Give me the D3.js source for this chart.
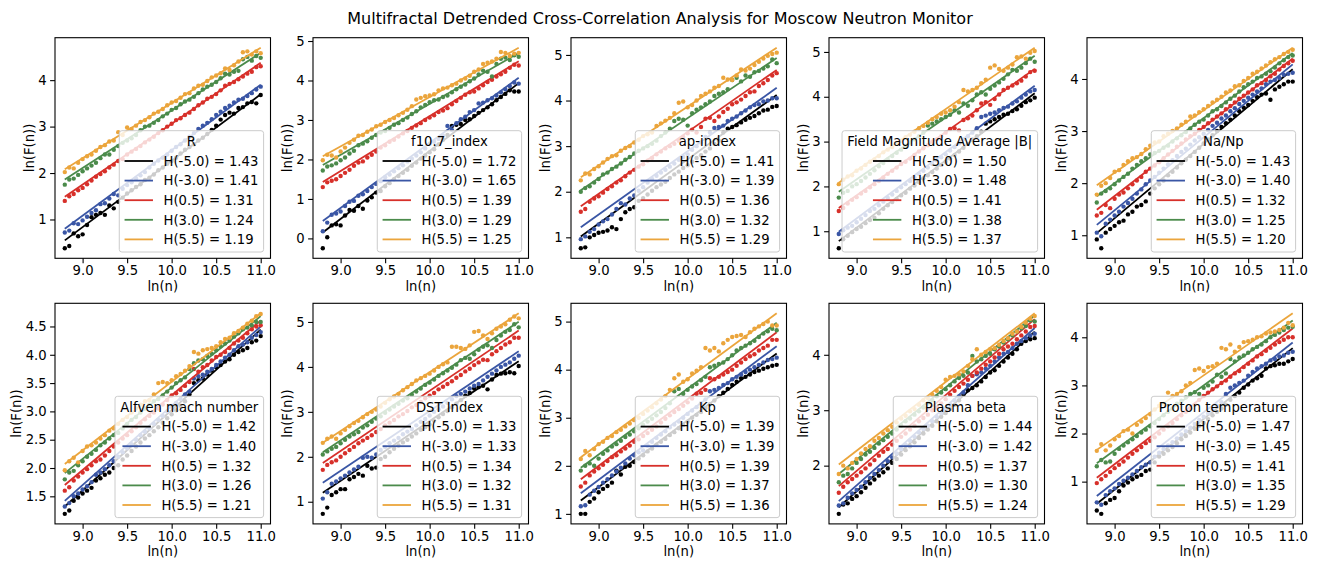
<!DOCTYPE html>
<html>
<head>
<meta charset="utf-8">
<script src="https://cdn.jsdelivr.net/npm/d3@7"></script>
<style>
body { margin: 0; background: #fff; }
svg text { font-family: "DejaVu Sans", sans-serif; fill: #000; }
</style>
</head>
<body>
<svg id="chart" width="1317" height="562"></svg>
<script>
var chartTitle = "Multifractal Detrended Cross-Correlation Analysis for Moscow Neutron Monitor";

// ln(n) scales shared by every panel
var lnN = [8.80, 8.85, 8.90, 8.95, 9.00, 9.05, 9.10, 9.15, 9.20, 9.25, 9.30, 9.35, 9.40, 9.45, 9.50,
    9.55, 9.60, 9.65, 9.70, 9.75, 9.80, 9.85, 9.90, 9.95, 10.00, 10.05, 10.10, 10.15, 10.20, 10.25,
    10.30, 10.35, 10.40, 10.45, 10.50, 10.55, 10.60, 10.65, 10.70, 10.75, 10.80, 10.85, 10.90, 10.95, 11.00];

var qOrders = ["-5.0", "-3.0", "0.5", "3.0", "5.5"];
var panelNames = ["R", "f10.7_index", "ap-index", "Field Magnitude Average |B|", "Na/Np",
    "Alfven mach number", "DST Index", "Kp", "Plasma beta", "Proton temperature"];

// generalized Hurst exponents (slopes of the fits), one row per panel
var hurst = [
    [1.43, 1.41, 1.31, 1.24, 1.19],
    [1.72, 1.65, 1.39, 1.29, 1.25],
    [1.41, 1.39, 1.36, 1.32, 1.29],
    [1.50, 1.48, 1.41, 1.38, 1.37],
    [1.43, 1.40, 1.32, 1.25, 1.20],
    [1.42, 1.40, 1.32, 1.26, 1.21],
    [1.33, 1.33, 1.34, 1.32, 1.31],
    [1.39, 1.39, 1.39, 1.37, 1.36],
    [1.44, 1.42, 1.37, 1.30, 1.24],
    [1.47, 1.45, 1.41, 1.35, 1.29]
];

// value of each fitted line at the first ln(n)
var fitStart = [
    [0.55, 0.80, 1.49, 1.86, 2.08],
    [0.15, 0.44, 1.43, 1.86, 2.08],
    [1.02, 1.22, 1.68, 2.03, 2.32],
    [0.78, 0.99, 1.52, 1.88, 2.08],
    [1.04, 1.20, 1.49, 1.75, 1.96],
    [1.32, 1.42, 1.70, 1.91, 2.07],
    [1.20, 1.42, 1.86, 2.10, 2.31],
    [1.28, 1.43, 1.72, 1.96, 2.18],
    [1.25, 1.36, 1.63, 1.85, 2.02],
    [0.54, 0.70, 1.08, 1.38, 1.66]
];

var xTicks = [9.0, 9.5, 10.0, 10.5, 11.0];
var yTicks = [
    [1, 2, 3, 4],
    [0, 1, 2, 3, 4, 5],
    [1, 2, 3, 4, 5],
    [1, 2, 3, 4, 5],
    [1, 2, 3, 4],
    [1.5, 2.0, 2.5, 3.0, 3.5, 4.0, 4.5],
    [1, 2, 3, 4, 5],
    [1, 2, 3, 4, 5],
    [2, 3, 4],
    [1, 2, 3, 4]
];

// ln(F(n)) points, one list per q order
var lnF_R = [
    [0.38, 0.43, 0.70, 0.64, 0.68, 0.88, 1.05, 1.10, 1.14, 1.10, 1.30, 1.24, 1.38, 1.47, 1.56, 1.63, 1.70, 1.76, 1.85, 1.90, 1.97, 2.06, 2.12, 2.20, 2.26, 2.33, 2.42, 2.50, 2.56, 2.62, 2.70, 2.76, 2.84, 2.93, 3.02, 3.15, 3.25, 3.30, 3.28, 3.40, 3.42, 3.50, 3.53, 3.50, 3.68],
    [0.72, 0.76, 0.92, 0.90, 0.98, 1.06, 1.14, 1.20, 1.33, 1.35, 1.45, 1.55, 1.52, 1.66, 1.74, 1.80, 1.88, 1.95, 2.02, 2.12, 2.20, 2.27, 2.33, 2.40, 2.48, 2.56, 2.62, 2.70, 2.78, 2.86, 2.95, 3.02, 3.08, 3.16, 3.25, 3.32, 3.40, 3.45, 3.52, 3.58, 3.60, 3.66, 3.72, 3.80, 3.86],
    [1.40, 1.50, 1.55, 1.63, 1.68, 1.76, 1.84, 1.92, 1.98, 2.04, 2.12, 2.18, 2.26, 2.30, 2.40, 2.46, 2.52, 2.58, 2.66, 2.72, 2.78, 2.86, 2.92, 3.00, 3.06, 3.14, 3.18, 3.25, 3.30, 3.38, 3.46, 3.52, 3.60, 3.64, 3.70, 3.78, 3.88, 3.92, 3.96, 4.02, 4.08, 4.14, 4.18, 4.28, 4.30],
    [1.75, 1.86, 1.88, 1.96, 2.04, 2.10, 2.16, 2.22, 2.32, 2.40, 2.40, 2.50, 2.58, 2.65, 2.70, 2.75, 2.82, 2.92, 3.00, 3.02, 3.08, 3.14, 3.22, 3.28, 3.36, 3.40, 3.48, 3.54, 3.58, 3.64, 3.72, 3.80, 3.86, 3.90, 3.96, 4.04, 4.14, 4.12, 4.18, 4.20, 4.45, 4.50, 4.42, 4.52, 4.48],
    [2.02, 2.12, 2.10, 2.22, 2.30, 2.36, 2.40, 2.48, 2.56, 2.60, 2.68, 2.70, 2.88, 2.82, 2.98, 2.95, 3.02, 3.10, 3.14, 3.20, 3.28, 3.32, 3.38, 3.46, 3.52, 3.55, 3.62, 3.70, 3.72, 3.82, 3.88, 3.90, 3.98, 4.06, 4.10, 4.15, 4.25, 4.22, 4.32, 4.40, 4.60, 4.62, 4.55, 4.62, 4.58]
];
var lnF_f107 = [
    [-0.25, 0.03, 0.33, 0.36, 0.33, 0.58, 0.72, 0.70, 0.82, 0.75, 0.96, 1.04, 1.16, 1.20, 1.32, 1.40, 1.50, 1.58, 1.66, 1.74, 1.84, 1.92, 2.02, 2.10, 2.18, 2.26, 2.38, 2.50, 2.62, 2.85, 2.88, 2.90, 3.00, 3.02, 3.10, 3.18, 3.25, 3.32, 3.40, 3.50, 3.58, 3.66, 3.75, 3.72, 3.72],
    [0.18, 0.40, 0.60, 0.63, 0.68, 0.82, 0.93, 0.95, 1.08, 1.12, 1.20, 1.30, 1.38, 1.45, 1.55, 1.62, 1.70, 1.78, 1.85, 1.95, 2.02, 2.10, 2.18, 2.28, 2.40, 2.45, 2.52, 2.60, 2.85, 2.75, 2.92, 3.02, 3.08, 3.20, 3.25, 3.42, 3.44, 3.50, 3.55, 3.62, 3.70, 3.78, 3.86, 3.95, 3.92],
    [1.30, 1.42, 1.46, 1.50, 1.58, 1.66, 1.74, 1.84, 1.92, 1.95, 2.05, 2.12, 2.20, 2.30, 2.36, 2.45, 2.50, 2.58, 2.66, 2.72, 2.80, 2.86, 2.92, 3.00, 3.06, 3.12, 3.20, 3.24, 3.30, 3.40, 3.48, 3.56, 3.64, 3.70, 3.72, 3.80, 3.88, 3.96, 4.02, 4.10, 4.16, 4.22, 4.32, 4.40, 4.38],
    [1.72, 1.82, 1.85, 1.90, 1.98, 2.05, 2.15, 2.22, 2.36, 2.40, 2.46, 2.55, 2.62, 2.68, 2.72, 2.80, 2.88, 2.92, 3.00, 3.06, 3.15, 3.22, 3.32, 3.38, 3.45, 3.50, 3.52, 3.58, 3.62, 3.70, 3.78, 3.84, 3.90, 3.98, 4.05, 4.15, 4.25, 4.22, 4.10, 4.42, 4.55, 4.58, 4.52, 4.64, 4.60],
    [1.98, 2.12, 2.10, 2.05, 2.20, 2.30, 2.42, 2.50, 2.60, 2.62, 2.70, 2.76, 2.84, 2.88, 2.95, 3.00, 3.05, 3.12, 3.18, 3.26, 3.35, 3.52, 3.56, 3.60, 3.62, 3.65, 3.75, 3.80, 3.82, 3.88, 3.92, 4.00, 4.05, 4.12, 4.22, 4.28, 4.42, 4.45, 4.48, 4.55, 4.72, 4.70, 4.62, 4.68, 4.70]
];
var lnF_ap = [
    [0.76, 0.78, 1.00, 1.05, 1.10, 1.12, 1.15, 1.22, 1.18, 1.40, 1.55, 1.62, 1.66, 1.80, 1.86, 1.94, 2.02, 2.10, 2.16, 2.22, 2.30, 2.38, 2.44, 2.52, 2.58, 2.66, 2.74, 2.80, 2.88, 2.95, 3.05, 3.12, 3.30, 3.38, 3.42, 3.46, 3.52, 3.58, 3.62, 3.66, 3.72, 3.78, 3.80, 3.86, 3.88],
    [0.96, 1.02, 1.12, 1.18, 1.28, 1.35, 1.40, 1.50, 1.62, 1.75, 1.72, 1.85, 1.92, 2.02, 2.10, 2.20, 2.28, 2.35, 2.42, 2.48, 2.55, 2.62, 2.70, 2.76, 2.82, 2.92, 3.00, 3.08, 3.20, 3.30, 3.40, 3.42, 3.45, 3.55, 3.60, 3.65, 3.72, 3.78, 3.85, 3.90, 3.92, 3.98, 4.00, 4.05, 4.05],
    [1.56, 1.62, 1.78, 1.85, 1.90, 1.98, 2.06, 2.12, 2.20, 2.25, 2.34, 2.42, 2.48, 2.55, 2.60, 2.68, 2.74, 2.82, 2.88, 2.95, 3.00, 3.05, 3.12, 3.20, 3.28, 3.36, 3.30, 3.42, 3.60, 3.62, 3.55, 3.65, 3.75, 3.82, 3.92, 3.96, 4.02, 4.10, 4.18, 4.20, 4.32, 4.38, 4.45, 4.55, 4.60],
    [2.00, 2.08, 2.12, 2.20, 2.28, 2.38, 2.42, 2.50, 2.55, 2.62, 2.70, 2.76, 2.84, 2.90, 2.95, 3.00, 3.05, 3.12, 3.22, 3.30, 3.38, 3.55, 3.60, 3.58, 3.45, 3.72, 3.80, 3.85, 3.92, 3.98, 4.10, 4.15, 4.18, 4.25, 4.45, 4.50, 4.42, 4.55, 4.52, 4.62, 4.65, 4.70, 4.75, 4.90, 4.82],
    [2.25, 2.40, 2.38, 2.50, 2.56, 2.64, 2.72, 2.78, 2.80, 2.90, 2.96, 3.00, 3.08, 3.14, 3.22, 3.26, 3.30, 3.44, 3.50, 3.56, 3.62, 3.72, 3.95, 3.98, 3.85, 3.90, 4.00, 4.10, 4.15, 4.20, 4.28, 4.32, 4.50, 4.46, 4.45, 4.55, 4.68, 4.66, 4.70, 4.78, 4.85, 4.92, 4.98, 5.02, 5.05]
];
var lnF_B = [
    [0.62, 0.82, 0.90, 0.98, 1.05, 1.10, 1.18, 1.25, 1.30, 1.40, 1.50, 1.58, 1.65, 1.72, 1.80, 1.86, 1.95, 2.02, 2.10, 2.18, 2.25, 2.32, 2.40, 2.48, 2.55, 2.62, 2.70, 2.78, 2.86, 2.95, 3.05, 3.12, 3.22, 3.40, 3.45, 3.50, 3.55, 3.60, 3.62, 3.68, 3.72, 3.80, 3.88, 3.92, 3.98],
    [0.94, 1.02, 1.08, 1.12, 1.20, 1.28, 1.36, 1.45, 1.50, 1.58, 1.66, 1.74, 1.82, 1.90, 1.98, 2.05, 2.12, 2.20, 2.28, 2.35, 2.42, 2.50, 2.58, 2.65, 2.72, 2.80, 2.88, 2.96, 3.05, 3.12, 3.20, 3.30, 3.55, 3.58, 3.62, 3.65, 3.70, 3.75, 3.78, 3.85, 3.90, 3.98, 4.05, 4.12, 4.15],
    [1.45, 1.52, 1.62, 1.70, 1.76, 1.84, 1.90, 1.98, 2.05, 2.12, 2.20, 2.28, 2.35, 2.42, 2.50, 2.55, 2.62, 2.70, 2.78, 2.85, 2.92, 3.00, 3.05, 3.12, 3.20, 3.28, 3.30, 3.25, 3.48, 3.52, 3.58, 3.70, 3.85, 3.88, 3.82, 3.95, 4.05, 4.15, 4.20, 4.25, 4.30, 4.36, 4.45, 4.55, 4.58],
    [1.75, 1.86, 1.90, 2.00, 2.05, 2.12, 2.20, 2.28, 2.36, 2.45, 2.52, 2.60, 2.68, 2.75, 2.82, 2.90, 2.98, 3.05, 3.12, 3.20, 3.36, 3.40, 3.45, 3.50, 3.55, 3.60, 3.70, 3.65, 3.85, 3.80, 3.92, 4.05, 4.10, 4.05, 4.18, 4.25, 4.32, 4.40, 4.50, 4.60, 4.58, 4.65, 4.75, 4.85, 4.78],
    [2.05, 2.15, 2.22, 2.25, 2.35, 2.40, 2.48, 2.55, 2.60, 2.68, 2.76, 2.82, 2.88, 2.95, 3.02, 3.10, 3.15, 3.22, 3.30, 3.35, 3.42, 3.50, 3.55, 3.62, 3.65, 3.70, 3.78, 3.88, 4.15, 4.12, 4.15, 4.20, 4.30, 4.38, 4.65, 4.70, 4.62, 4.58, 4.65, 4.72, 4.88, 4.90, 4.85, 4.98, 5.02]
];
var lnF_NaNp = [
    [0.92, 0.75, 1.05, 1.12, 1.18, 1.25, 1.28, 1.40, 1.45, 1.55, 1.58, 1.65, 1.80, 1.90, 1.98, 2.05, 2.15, 2.22, 2.30, 2.38, 2.45, 2.52, 2.60, 2.68, 2.76, 2.84, 2.92, 3.00, 3.08, 3.15, 3.22, 3.30, 3.38, 3.45, 3.50, 3.58, 3.65, 3.70, 3.72, 3.60, 3.80, 3.85, 3.90, 3.95, 3.95],
    [1.05, 0.98, 1.22, 1.30, 1.38, 1.45, 1.55, 1.62, 1.70, 1.80, 1.88, 1.98, 2.05, 2.12, 2.20, 2.28, 2.36, 2.44, 2.52, 2.60, 2.66, 2.74, 2.82, 2.88, 2.95, 3.02, 3.10, 3.16, 3.24, 3.30, 3.38, 3.44, 3.52, 3.58, 3.64, 3.70, 3.76, 3.82, 3.90, 3.95, 3.98, 4.02, 4.08, 4.10, 4.12],
    [1.38, 1.43, 1.58, 1.52, 1.70, 1.78, 1.82, 1.90, 1.98, 2.05, 2.12, 2.22, 2.28, 2.34, 2.40, 2.48, 2.55, 2.62, 2.70, 2.76, 2.84, 2.90, 2.95, 3.02, 3.08, 3.15, 3.22, 3.28, 3.34, 3.42, 3.48, 3.55, 3.62, 3.68, 3.74, 3.80, 3.88, 3.92, 3.98, 4.05, 4.10, 4.18, 4.25, 4.30, 4.35],
    [1.63, 1.80, 1.85, 1.90, 1.98, 2.05, 2.12, 2.18, 2.28, 2.35, 2.42, 2.48, 2.55, 2.58, 2.62, 2.68, 2.72, 2.80, 2.86, 2.92, 2.98, 3.05, 3.12, 3.18, 3.22, 3.30, 3.38, 3.42, 3.48, 3.55, 3.62, 3.68, 3.76, 3.84, 3.90, 3.95, 4.02, 4.05, 4.10, 4.15, 4.22, 4.30, 4.36, 4.42, 4.45],
    [1.78, 1.95, 2.00, 2.10, 2.22, 2.25, 2.35, 2.42, 2.48, 2.50, 2.56, 2.65, 2.72, 2.78, 2.80, 2.90, 2.95, 3.00, 3.05, 3.12, 3.18, 3.28, 3.30, 3.36, 3.42, 3.48, 3.55, 3.60, 3.66, 3.74, 3.78, 3.86, 3.88, 3.96, 4.02, 4.10, 4.14, 4.20, 4.26, 4.32, 4.38, 4.42, 4.48, 4.52, 4.56]
];
var lnF_Alfven = [
    [1.19, 1.25, 1.42, 1.48, 1.55, 1.60, 1.65, 1.78, 1.82, 1.88, 1.92, 2.00, 2.05, 2.15, 2.22, 2.30, 2.38, 2.45, 2.52, 2.58, 2.65, 2.72, 2.80, 2.88, 2.95, 3.02, 3.10, 3.18, 3.30, 3.50, 3.55, 3.58, 3.65, 3.72, 3.78, 3.82, 3.88, 3.92, 4.00, 4.05, 4.08, 4.12, 4.22, 4.25, 4.33],
    [1.32, 1.38, 1.50, 1.55, 1.62, 1.68, 1.75, 1.88, 1.92, 1.98, 2.05, 2.12, 2.20, 2.28, 2.35, 2.42, 2.50, 2.58, 2.64, 2.70, 2.78, 2.85, 2.92, 3.00, 3.08, 3.15, 3.22, 3.30, 3.35, 3.58, 3.62, 3.65, 3.70, 3.75, 3.82, 3.88, 3.95, 4.00, 4.08, 4.15, 4.18, 4.22, 4.30, 4.35, 4.40],
    [1.60, 1.66, 1.78, 1.85, 1.92, 1.98, 2.05, 2.12, 2.15, 2.22, 2.30, 2.38, 2.45, 2.52, 2.58, 2.65, 2.72, 2.80, 2.86, 2.92, 2.98, 3.05, 3.12, 3.20, 3.28, 3.32, 3.38, 3.45, 3.52, 3.75, 3.70, 3.78, 3.82, 3.90, 3.96, 4.00, 4.05, 4.12, 4.20, 4.25, 4.30, 4.38, 4.45, 4.50, 4.52],
    [1.80, 1.92, 1.95, 2.05, 2.12, 2.20, 2.25, 2.32, 2.40, 2.45, 2.52, 2.58, 2.62, 2.70, 2.78, 2.85, 2.90, 2.98, 3.05, 3.12, 3.18, 3.22, 3.28, 3.35, 3.42, 3.50, 3.55, 3.60, 3.75, 3.85, 3.90, 3.92, 3.98, 4.02, 4.08, 4.15, 4.20, 4.25, 4.32, 4.38, 4.45, 4.48, 4.52, 4.58, 4.58],
    [1.96, 2.12, 2.18, 2.10, 2.30, 2.38, 2.40, 2.45, 2.52, 2.58, 2.66, 2.70, 2.78, 2.85, 2.90, 2.98, 3.05, 3.12, 3.18, 3.20, 3.30, 3.50, 3.52, 3.50, 3.55, 3.62, 3.66, 3.72, 3.80, 4.05, 4.02, 4.08, 4.10, 4.12, 4.15, 4.22, 4.28, 4.30, 4.38, 4.42, 4.48, 4.55, 4.60, 4.68, 4.72]
];
var lnF_DST = [
    [0.73, 0.87, 1.15, 1.21, 1.28, 1.28, 1.50, 1.55, 1.62, 1.58, 1.80, 1.74, 1.76, 1.95, 2.00, 2.10, 2.18, 2.25, 2.32, 2.38, 2.45, 2.52, 2.60, 2.66, 2.72, 2.80, 2.88, 2.95, 3.02, 3.10, 3.18, 3.26, 3.36, 3.42, 3.52, 3.55, 3.58, 3.50, 3.72, 3.82, 3.85, 3.86, 3.88, 3.86, 4.02],
    [1.07, 1.21, 1.40, 1.45, 1.52, 1.58, 1.65, 1.72, 1.78, 1.98, 2.00, 1.98, 2.05, 2.15, 2.22, 2.30, 2.36, 2.42, 2.50, 2.56, 2.62, 2.70, 2.78, 2.84, 2.92, 3.00, 3.06, 3.12, 3.20, 3.28, 3.35, 3.40, 3.45, 3.52, 3.58, 3.62, 3.70, 3.78, 3.85, 3.92, 4.00, 4.05, 4.10, 4.18, 4.25],
    [1.71, 1.82, 1.88, 1.92, 2.00, 2.08, 2.15, 2.22, 2.30, 2.36, 2.42, 2.48, 2.55, 2.62, 2.70, 2.76, 2.82, 2.90, 2.95, 3.02, 3.10, 3.15, 3.22, 3.30, 3.36, 3.42, 3.50, 3.56, 3.62, 3.68, 3.76, 3.82, 3.90, 3.96, 4.04, 4.10, 4.16, 4.15, 4.28, 4.35, 4.42, 4.50, 4.55, 4.65, 4.65],
    [2.05, 2.12, 2.18, 2.22, 2.30, 2.38, 2.45, 2.50, 2.55, 2.65, 2.70, 2.78, 2.85, 2.90, 2.98, 3.05, 3.12, 3.18, 3.25, 3.30, 3.38, 3.45, 3.52, 3.60, 3.65, 3.72, 3.80, 3.86, 3.92, 3.98, 4.05, 4.15, 4.20, 4.18, 4.28, 4.38, 4.45, 4.48, 4.42, 4.60, 4.70, 4.78, 4.82, 4.95, 4.88],
    [2.31, 2.40, 2.45, 2.40, 2.52, 2.60, 2.68, 2.75, 2.80, 2.88, 2.95, 3.00, 3.05, 3.12, 3.20, 3.28, 3.34, 3.40, 3.48, 3.55, 3.62, 3.70, 3.75, 3.80, 3.85, 3.92, 4.00, 4.06, 4.10, 4.45, 4.45, 4.42, 4.40, 4.48, 4.78, 4.80, 4.70, 4.62, 4.75, 4.85, 4.90, 4.95, 5.05, 5.12, 5.08]
];
var lnF_Kp = [
    [1.00, 1.00, 1.25, 1.32, 1.45, 1.52, 1.58, 1.65, 1.90, 1.82, 1.98, 2.00, 2.08, 2.15, 2.22, 2.30, 2.36, 2.44, 2.50, 2.56, 2.64, 2.70, 2.78, 2.85, 2.92, 3.00, 3.06, 3.12, 3.20, 3.28, 3.36, 3.45, 3.52, 3.60, 3.68, 3.75, 3.82, 3.85, 3.90, 3.95, 3.98, 4.02, 4.05, 4.08, 4.10],
    [1.16, 1.18, 1.40, 1.48, 1.56, 1.65, 1.72, 1.80, 1.88, 1.96, 2.05, 2.15, 2.22, 2.28, 2.32, 2.42, 2.50, 2.58, 2.65, 2.72, 2.80, 2.86, 2.92, 3.00, 3.08, 3.15, 3.22, 3.30, 3.38, 3.55, 3.58, 3.62, 3.68, 3.72, 3.80, 3.85, 3.90, 3.95, 4.00, 4.05, 4.10, 4.15, 4.20, 4.22, 4.25],
    [1.57, 1.65, 1.80, 1.88, 1.95, 2.02, 2.10, 2.18, 2.22, 2.30, 2.36, 2.42, 2.50, 2.55, 2.62, 2.68, 2.75, 2.82, 2.90, 2.98, 3.05, 3.12, 3.18, 3.25, 3.32, 3.40, 3.50, 3.52, 3.58, 3.82, 3.80, 3.85, 3.90, 3.95, 4.00, 4.08, 4.15, 4.22, 4.28, 4.32, 4.40, 4.45, 4.50, 4.62, 4.62],
    [1.90, 2.00, 2.05, 2.00, 2.15, 2.25, 2.32, 2.40, 2.45, 2.52, 2.60, 2.65, 2.72, 2.78, 2.85, 2.92, 2.98, 3.05, 3.12, 3.20, 3.30, 3.55, 3.60, 3.50, 3.58, 3.65, 3.70, 3.78, 3.85, 4.05, 4.08, 4.12, 4.15, 4.22, 4.30, 4.40, 4.45, 4.50, 4.55, 4.60, 4.68, 4.75, 4.80, 4.85, 4.82],
    [2.14, 2.31, 2.22, 2.35, 2.45, 2.50, 2.58, 2.62, 2.70, 2.75, 2.82, 2.88, 2.95, 3.00, 3.08, 3.15, 3.22, 3.30, 3.38, 3.45, 3.58, 3.82, 3.90, 3.75, 3.80, 3.92, 3.98, 4.05, 4.45, 4.40, 4.45, 4.38, 4.55, 4.62, 4.68, 4.70, 4.72, 4.68, 4.78, 4.85, 4.90, 4.95, 5.00, 4.92, 4.92]
];
var lnF_Beta = [
    [1.13, 1.30, 1.32, 1.40, 1.45, 1.52, 1.60, 1.68, 1.75, 1.82, 1.88, 1.95, 2.05, 2.12, 2.20, 2.28, 2.35, 2.42, 2.50, 2.58, 2.65, 2.72, 2.80, 2.88, 2.95, 3.02, 3.10, 3.18, 3.28, 3.36, 3.40, 3.45, 3.52, 3.60, 3.68, 3.72, 3.80, 3.88, 3.95, 4.02, 4.10, 4.20, 4.25, 4.28, 4.30],
    [1.28, 1.32, 1.42, 1.50, 1.56, 1.62, 1.70, 1.78, 1.85, 1.92, 2.00, 2.08, 2.15, 2.22, 2.30, 2.38, 2.45, 2.52, 2.60, 2.66, 2.72, 2.80, 2.88, 2.95, 3.02, 3.10, 3.18, 3.25, 3.32, 3.45, 3.62, 3.65, 3.68, 3.75, 3.80, 3.88, 3.95, 4.02, 4.05, 4.12, 4.20, 4.25, 4.30, 4.35, 4.38],
    [1.51, 1.62, 1.70, 1.76, 1.82, 1.88, 1.95, 2.02, 2.10, 2.18, 2.25, 2.30, 2.38, 2.45, 2.52, 2.58, 2.65, 2.72, 2.80, 2.86, 2.92, 3.00, 3.05, 3.12, 3.20, 3.28, 3.35, 3.42, 3.48, 3.55, 3.62, 3.68, 3.75, 3.82, 3.88, 3.95, 4.02, 4.10, 4.15, 4.20, 4.28, 4.35, 4.42, 4.50, 4.52],
    [1.70, 1.82, 1.85, 1.95, 2.05, 2.12, 2.20, 2.25, 2.32, 2.40, 2.46, 2.52, 2.58, 2.65, 2.72, 2.80, 2.85, 2.92, 2.98, 3.05, 3.12, 3.18, 3.25, 3.32, 3.38, 3.45, 3.52, 3.58, 3.62, 3.68, 3.98, 3.88, 3.92, 3.98, 4.02, 4.10, 4.15, 4.22, 4.28, 4.35, 4.42, 4.48, 4.52, 4.62, 4.60],
    [1.85, 2.00, 1.95, 2.05, 2.12, 2.22, 2.30, 2.35, 2.45, 2.50, 2.58, 2.64, 2.70, 2.78, 2.85, 2.90, 2.98, 3.02, 3.10, 3.18, 3.22, 3.28, 3.35, 3.42, 3.55, 3.60, 3.62, 3.65, 3.70, 3.80, 3.92, 4.10, 4.00, 4.05, 4.10, 4.12, 4.18, 4.25, 4.30, 4.38, 4.42, 4.50, 4.58, 4.65, 4.70]
];
var lnF_Temp = [
    [0.40, 0.33, 0.55, 0.62, 0.66, 0.80, 0.92, 0.98, 1.05, 1.10, 1.14, 1.22, 1.25, 1.40, 1.52, 1.58, 1.65, 1.72, 1.80, 1.88, 1.95, 2.02, 2.10, 2.16, 2.22, 2.30, 2.38, 2.45, 2.52, 2.60, 2.70, 2.78, 2.85, 2.95, 3.02, 3.10, 3.15, 3.20, 3.35, 3.40, 3.42, 3.45, 3.45, 3.50, 3.55],
    [0.57, 0.52, 0.72, 0.80, 0.86, 0.95, 1.02, 1.08, 1.15, 1.22, 1.30, 1.35, 1.40, 1.52, 1.60, 1.68, 1.75, 1.82, 1.90, 1.98, 2.05, 2.12, 2.20, 2.28, 2.35, 2.42, 2.50, 2.58, 2.65, 2.82, 2.95, 3.00, 3.05, 3.10, 3.20, 3.28, 3.35, 3.40, 3.45, 3.52, 3.55, 3.60, 3.62, 3.68, 3.70],
    [0.97, 1.05, 1.12, 1.20, 1.28, 1.35, 1.42, 1.50, 1.58, 1.65, 1.72, 1.80, 1.85, 1.92, 2.00, 2.08, 2.15, 2.22, 2.30, 2.38, 2.45, 2.52, 2.60, 2.70, 2.78, 2.85, 2.92, 2.98, 3.05, 3.10, 3.18, 3.25, 3.30, 3.38, 3.45, 3.52, 3.60, 3.65, 3.72, 3.78, 3.85, 3.90, 3.95, 4.00, 4.00],
    [1.32, 1.45, 1.40, 1.42, 1.58, 1.68, 1.75, 1.82, 1.88, 1.95, 2.02, 2.08, 2.15, 2.22, 2.30, 2.38, 2.45, 2.52, 2.62, 2.68, 2.75, 2.82, 2.86, 2.82, 2.95, 3.00, 3.08, 3.22, 3.18, 3.25, 3.55, 3.50, 3.58, 3.62, 3.68, 3.75, 3.80, 3.85, 3.92, 4.00, 4.05, 4.10, 4.15, 4.20, 4.22],
    [1.64, 1.78, 1.65, 1.75, 1.88, 1.95, 2.05, 2.08, 2.00, 2.18, 2.25, 2.32, 2.40, 2.50, 2.58, 2.62, 2.85, 2.78, 2.82, 2.88, 3.00, 3.05, 3.32, 3.35, 3.30, 3.38, 3.40, 3.45, 3.78, 3.75, 3.85, 3.70, 3.80, 3.90, 3.92, 3.95, 4.00, 4.02, 4.08, 4.10, 4.12, 4.15, 4.20, 4.30, 4.25]
];
var lnF = [lnF_R, lnF_f107, lnF_ap, lnF_B, lnF_NaNp, lnF_Alfven, lnF_DST, lnF_Kp, lnF_Beta, lnF_Temp];

var seriesColors = ["#000000", "#3a56a5", "#d7302a", "#4b8b4b", "#eba53c"];

var svg = d3.select('#chart');
var colLeft = [55, 313, 571, 829, 1087];
var rowTop = [37.7, 303.3];
var panelW = 215.5, panelH = 220.6;
var fontSize = 13.2;

svg.append('text')
    .attr('x', 660)
    .attr('y', 24)
    .attr('text-anchor', 'middle')
    .style('font-size', '16px')
    .text(chartTitle);

for(var p = 0; p < panelNames.length; p++)
{
    drawPanel(p);
}

function drawPanel(p)
{
    var left = colLeft[p % 5];
    var top = rowTop[Math.floor(p / 5)];
    var g = svg.append('g').attr('transform', 'translate(' + left + ',' + top + ')');

    var xExt = d3.extent(lnN);
    var allY = [];
    lnF[p].forEach(function(s, k)
    {
        allY = allY.concat(s);
        allY.push(fitStart[p][k], fitStart[p][k] + hurst[p][k] * (xExt[1] - xExt[0]));
    });
    var yExt = d3.extent(allY);
    var xPad = 0.05 * (xExt[1] - xExt[0]);
    var yPad = 0.05 * (yExt[1] - yExt[0]);

    var x = d3.scaleLinear().domain([xExt[0] - xPad, xExt[1] + xPad]).range([0, panelW]);
    var y = d3.scaleLinear().domain([yExt[0] - yPad, yExt[1] + yPad]).range([panelH, 0]);

    // points and fitted lines, one q order at a time
    lnF[p].forEach(function(s, k)
    {
        g.append('g')
            .selectAll('circle')
            .data(s)
            .enter().append('circle')
            .attr('cx', function(d, i) { return x(lnN[i]); })
            .attr('cy', function(d) { return y(d); })
            .attr('r', 2.2)
            .attr('fill', seriesColors[k]);

        var fit = [xExt[0], xExt[1]].map(function(v)
        {
            return [v, fitStart[p][k] + hurst[p][k] * (v - xExt[0])];
        });
        g.append('path')
            .datum(fit)
            .attr('fill', 'none')
            .attr('stroke', seriesColors[k])
            .attr('stroke-width', 1.8)
            .attr('d', d3.line().x(function(d) { return x(d[0]); }).y(function(d) { return y(d[1]); }));
    });

    var xAxis = g.append('g')
        .attr('transform', 'translate(0,' + panelH + ')')
        .call(d3.axisBottom(x).tickValues(xTicks).tickFormat(d3.format('.1f')).tickSize(4.9).tickPadding(2.6));
    var yFormat = (p == 5) ? d3.format('.1f') : d3.format('d');
    var yAxis = g.append('g')
        .call(d3.axisLeft(y).tickValues(yTicks[p]).tickFormat(yFormat).tickSize(4.9).tickPadding(3.4));

    [xAxis, yAxis].forEach(function(a)
    {
        a.attr('font-family', '"DejaVu Sans", sans-serif').attr('font-size', fontSize);
        a.select('.domain').remove();
        a.selectAll('.tick line').attr('stroke', '#000').attr('stroke-width', 1.1);
    });

    g.append('rect')
        .attr('width', panelW)
        .attr('height', panelH)
        .attr('fill', 'none')
        .attr('stroke', '#000')
        .attr('stroke-width', 1.1);

    g.append('text')
        .attr('x', panelW / 2)
        .attr('y', panelH + 32.5)
        .attr('text-anchor', 'middle')
        .style('font-size', fontSize + 'px')
        .text('ln(n)');

    var maxTickW = d3.max(yAxis.selectAll('text').nodes(), function(n) { return n.getComputedTextLength(); });
    g.append('text')
        .attr('transform', 'translate(' + (-(8.3 + maxTickW + 4.5)) + ',' + (panelH / 2) + ') rotate(-90)')
        .attr('text-anchor', 'middle')
        .style('font-size', fontSize + 'px')
        .text('ln(F(n))');

    drawLegend(g, p);
}

function drawLegend(g, p)
{
    var pad = 5.3, handleLen = 28.4, handleGap = 10.6, rowGap = 19.6;
    var lg = g.append('g');
    var box = lg.append('rect');

    var title = lg.append('text')
        .attr('text-anchor', 'middle')
        .style('font-size', fontSize + 'px')
        .text(panelNames[p]);

    var labels = qOrders.map(function(q, k)
    {
        return lg.append('text')
            .style('font-size', fontSize + 'px')
            .text('H(' + q + ') = ' + hurst[p][k].toFixed(2));
    });

    var textW = d3.max(labels, function(t) { return t.node().getComputedTextLength(); });
    var entryW = handleLen + handleGap + textW;
    var innerW = Math.max(entryW, title.node().getComputedTextLength());
    var boxW = innerW + 2 * pad;
    var boxH = 30.3 + 4 * rowGap + 12.6;
    var boxX = panelW - 6.9 - boxW;
    var boxY = panelH - 6.3 - boxH;
    var entryX = boxX + pad + (innerW - entryW) / 2;

    box.attr('x', boxX)
        .attr('y', boxY)
        .attr('width', boxW)
        .attr('height', boxH)
        .attr('rx', 2.6)
        .attr('fill', '#fff')
        .attr('fill-opacity', 0.8)
        .attr('stroke', '#cccccc')
        .attr('stroke-width', 1);

    title.attr('x', boxX + boxW / 2).attr('y', boxY + 10.6 + 0.36 * fontSize);

    labels.forEach(function(t, k)
    {
        var cy = boxY + 30.3 + k * rowGap;
        lg.append('line')
            .attr('x1', entryX)
            .attr('x2', entryX + handleLen)
            .attr('y1', cy)
            .attr('y2', cy)
            .attr('stroke', seriesColors[k])
            .attr('stroke-width', 1.8);
        t.attr('x', entryX + handleLen + handleGap).attr('y', cy + 0.36 * fontSize);
    });
}
</script>
</body>
</html>
